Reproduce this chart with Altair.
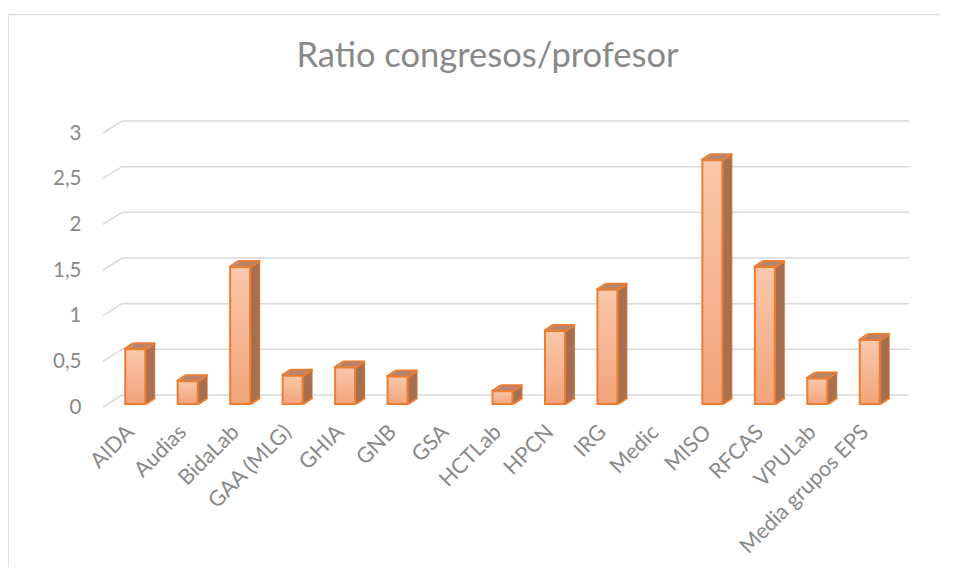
import altair as alt
import pandas as pd

categories = ["AIDA", "Audias", "BidaLab", "GAA (MLG)", "GHIA", "GNB", "GSA",
              "HCTLab", "HPCN", "IRG", "Medic", "MISO", "RFCAS", "VPULab",
              "Media grupos EPS"]
values = [0.6, 0.25, 1.5, 0.31, 0.4, 0.3, None, 0.14, 0.8, 1.25, None,
          2.67, 1.5, 0.28, 0.7]
y_ticks = [0, 0.5, 1, 1.5, 2, 2.5, 3]
title_text = "Ratio congresos/profesor"

# layout / style
W, H = 787, 274
BACK_DX, BACK_DY = 19, -12      # back wall offset (pseudo 3D)
BX, BY = 6, -3                  # bar front face offset
BW = 20                         # bar width
DEP_X, DEP_Y = 9, -6            # bar depth
ORANGE = "#ED7D31"
TOP_C = "#B9846A"
SIDE_C = "#A8704F"
GRID_C = "#D9D9D9"
TEXT_C = "#898989"
FONT = "Lato"

df = pd.DataFrame({"cat": categories, "v": values})
bars_df = df.dropna().reset_index(drop=True)
grid_df = pd.DataFrame({"g": y_ticks})
one_df = pd.DataFrame({"t": [title_text]})

xscale = alt.Scale(domain=categories, paddingInner=0, paddingOuter=0)
yscale = alt.Scale(domain=[0, 3], nice=False, zero=True)
yaxis = alt.Axis(values=y_ticks, title=None)
xaxis = alt.Axis(title=None)

X = alt.X("cat:N", scale=xscale, sort=categories, axis=xaxis)
Y = alt.Y("v:Q", scale=yscale, axis=yaxis)

layers = []

# back wall gridlines
layers.append(
    alt.Chart(grid_df).mark_rule(color=GRID_C, strokeWidth=1.5, yOffset=BACK_DY).encode(
        y=alt.Y("g:Q", scale=yscale, axis=yaxis),
        x=alt.value(BACK_DX), x2=alt.value(W + BACK_DX))
)
# side wall diagonals
layers.append(
    alt.Chart(grid_df).mark_rule(color=GRID_C, strokeWidth=1.5, y2Offset=BACK_DY).encode(
        y=alt.Y("g:Q", scale=yscale, axis=yaxis), y2="g:Q",
        x=alt.value(0), x2=alt.value(BACK_DX))
)

base = alt.Chart(bars_df)

# top face (stacked shifted rects), back one outlined
for k in range(DEP_X, 0, -1):
    ky = DEP_Y * k / DEP_X
    props = dict(width=BW, fill=TOP_C, xOffset=BX + k, x2Offset=BX + k,
                 yOffset=BY + ky, y2Offset=BY + ky)
    if k == DEP_X:
        props.update(stroke=ORANGE, strokeWidth=2)
    layers.append(base.mark_bar(**props).encode(x=X, y=Y, y2=alt.datum(0)))

# side face slivers
for k in range(1, DEP_X):
    ky = DEP_Y * (k - 0.5) / DEP_X
    off = BX + BW / 2 + 1 + k - 0.5
    layers.append(base.mark_bar(width=1.6, fill=SIDE_C, xOffset=off, x2Offset=off,
                                yOffset=BY + ky, y2Offset=BY + ky)
                  .encode(x=X, y=Y, y2=alt.datum(0)))

# diagonal edges
for xo, use_zero in [(BX - BW / 2 - 1, False), (BX + BW / 2 + 1, False), (BX + BW / 2 + 1, True)]:
    enc_y = alt.Y(datum=0, scale=yscale, axis=yaxis) if use_zero else Y
    enc_y2 = alt.datum(0) if use_zero else alt.Y2("v:Q")
    layers.append(base.mark_rule(color=ORANGE, strokeWidth=2, xOffset=xo, x2Offset=xo + DEP_X,
                                 yOffset=BY, y2Offset=BY + DEP_Y)
                  .encode(x=X, x2="cat:N", y=enc_y, y2=enc_y2))

# front face
grad = alt.Gradient(gradient="linear",
                    stops=[alt.GradientStop(color="#F9C8AB", offset=0),
                           alt.GradientStop(color="#F2A47B", offset=1)],
                    x1=0, x2=0, y1=0, y2=1)
layers.append(base.mark_bar(width=BW, fill=grad, stroke=ORANGE, strokeWidth=2,
                            xOffset=BX, x2Offset=BX, yOffset=BY, y2Offset=BY)
              .encode(x=X, y=Y, y2=alt.datum(0)))

# title
layers.append(alt.Chart(one_df).mark_text(font=FONT, fontSize=34.5, color=TEXT_C,
                                          align="center", baseline="alphabetic")
              .encode(text="t:N", x=alt.value(384.5), y=alt.value(-66)))

# chart frame (top and left border)
layers.append(alt.Chart(one_df).mark_rule(color="#E0E0E0", strokeWidth=1.5)
              .encode(x=alt.value(-95), x2=alt.value(W + 300), y=alt.value(-118.5)))
layers.append(alt.Chart(one_df).mark_rule(color="#E0E0E0", strokeWidth=2)
              .encode(x=alt.value(-95), y=alt.value(-118.5), y2=alt.value(H + 300)))

chart = alt.layer(*layers).properties(
    width=W, height=H,
    autosize=alt.AutoSizeParams(type="none"),
    padding={"left": 95, "top": 125, "right": 50, "bottom": 160},
).configure_view(stroke=None).configure_axis(
    grid=False, domain=False, ticks=False, tickSize=0,
    labelFont=FONT, labelColor=TEXT_C,
).configure_axisY(
    labelPadding=22, labelFontSize=20.5,
    labelExpr="replace(format(datum.value, '~g'), '.', ',')",
).configure_axisX(
    labelAngle=-45, labelAlign="right", labelBaseline="alphabetic",
    labelPadding=26, labelOffset=6, labelFontSize=21.5,
)

chart.save("out.html", embed_options={"renderer": "svg", "actions": False})
